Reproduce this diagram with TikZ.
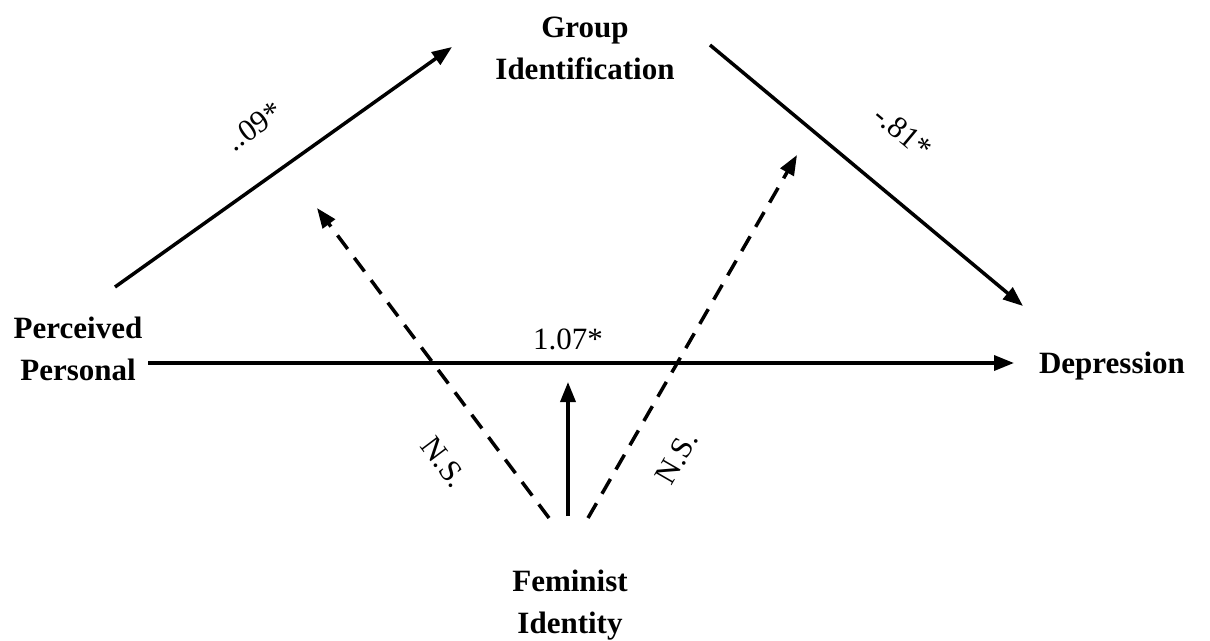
\documentclass[tikz,border=0pt]{standalone}
\usepackage{fontspec}
\setmainfont{Liberation Serif}
\usetikzlibrary{arrows.meta}
\begin{document}
\begin{tikzpicture}[x=1pt,y=-1pt,
  lbl/.style={font=\fontsize{31}{42}\selectfont\bfseries, align=center, inner sep=0pt},
  num/.style={font=\fontsize{31}{36}\selectfont, inner sep=0pt},
  arr/.style={line width=3.5pt, -{Triangle[length=20pt,width=15pt]}},
  darr/.style={arr, dash pattern=on 17pt off 11pt}]
\useasboundingbox (0,0) rectangle (1210,640);
\node[lbl] (pp) at (78,349) {Perceived\\Personal};
\node[lbl] (gi) at (585,48) {Group\\Identification};
\node[lbl] (dep) at (1112,366) {Depression};
\node[lbl] (fi) at (570,605) {Feminist\\Identity};
\coordinate (a1s) at (115,287);
\coordinate (a1e) at (452,47);
\coordinate (a2s) at (710,45);
\coordinate (a2e) at (1023,306);
\coordinate (hs) at (148,363);
\coordinate (he) at (1014,363);
\coordinate (vs) at (568,516);
\coordinate (ve) at (568,382);
\coordinate (d1s) at (549,518);
\coordinate (d1e) at (317,208);
\coordinate (d2s) at (588,518);
\coordinate (d2e) at (797,155);
\draw[arr] (a1s) -- (a1e);
\draw[arr] (a2s) -- (a2e);
\draw[arr] (hs) -- (he);
\draw[arr] (vs) -- (ve);
\draw[darr] (d1s) -- (d1e);
\draw[darr] (d2s) -- (d2e);
\node[num, rotate=35.5] (l09) at (254,126) {..09*};
\node[num, rotate=-39.8] (l81) at (903,132) {-.81*};
\node[num] (l107) at (568,339) {1.07*};
\node[num, rotate=-53] (ns1) at (444,462) {N.S.};
\node[num, rotate=60] (ns2) at (677,458) {N.S.};
\end{tikzpicture}
\end{document}
